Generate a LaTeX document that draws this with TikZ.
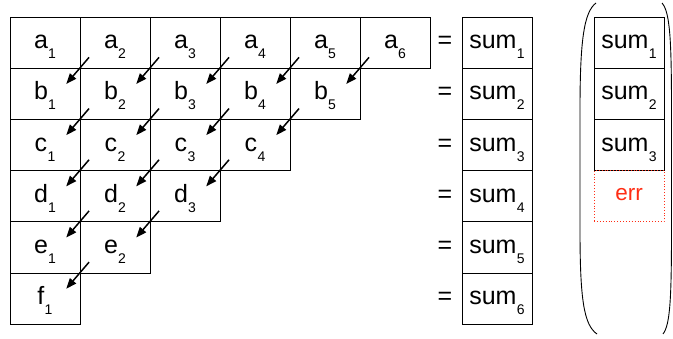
\documentclass[tikz,border=0pt]{standalone}
\usepackage{fontspec}
\setmainfont{Liberation Sans}
\usetikzlibrary{arrows.meta}
\definecolor{errred}{RGB}{255,45,20}
\newcommand{\mysub}[1]{\kern0.3pt\raisebox{-10pt}{\fontsize{14}{16}\selectfont #1}}
\begin{document}
\begin{tikzpicture}[x=1pt,y=-1pt,
  cell/.style={draw=black,line width=0.9pt,minimum width=70pt,minimum height=51.2pt,inner sep=0pt,
    text height=17pt,text depth=4.8pt,font=\fontsize{25}{29}\selectfont},
  errcell/.style={cell,draw=errred,dotted,line width=1pt,text=errred,text height=15pt,text depth=5.4pt,font=\fontsize{22.5}{26}\selectfont},
  eqs/.style={inner sep=0pt,font=\fontsize{25}{29}\selectfont},
  arr/.style={line width=1.5pt,-{Triangle[length=10.5pt,width=8pt]}},
  paren/.style={line width=0.9pt}]
\useasboundingbox (0,0) rectangle (673,339);
% triangle of cells
\foreach \r/\l/\n in {0/a/6,1/b/5,2/c/4,3/d/3,4/e/2,5/f/1}{
  \foreach \c in {1,...,\n}{
    \node[cell] (\l\c) at ({45+70*(\c-1)},{42.6+51.2*\r}) {\l\mysub{\c}};
  }
}
% arrows
\foreach \l/\n in {a/6,b/5,c/4,d/3,e/2}{
  \foreach \c in {2,...,\n}{
    \draw[arr] ([shift={(9.5,-11.3)}]\l\c.south west) -- ([shift={(-13.3,15.3)}]\l\c.south west);
  }
}
% equals and sums
\foreach \r in {1,...,6}{
  \node[eqs] (eq\r) at (445,{42.6+51.2*(\r-1)}) {=};
  \node[cell] (s\r) at (497,{42.6+51.2*(\r-1)}) {sum\mysub{\r}};
}
% right column
\foreach \r in {1,2,3}{
  \node[cell] (v\r) at (629,{42.6+51.2*(\r-1)}) {sum\mysub{\r}};
}
\node[errcell] (err) at (629,{42.6+51.2*3}) {err};
% parentheses
\draw[paren] (596,3) .. controls (584,12) and (580,40) .. (580,110) -- (580,230)
  .. controls (580,300) and (584,325) .. (597,334);
\draw[paren] (662,3) .. controls (670,12) and (671.5,40) .. (671.5,110) -- (671.5,230)
  .. controls (671.5,300) and (670,325) .. (663,334);
\end{tikzpicture}
\end{document}
